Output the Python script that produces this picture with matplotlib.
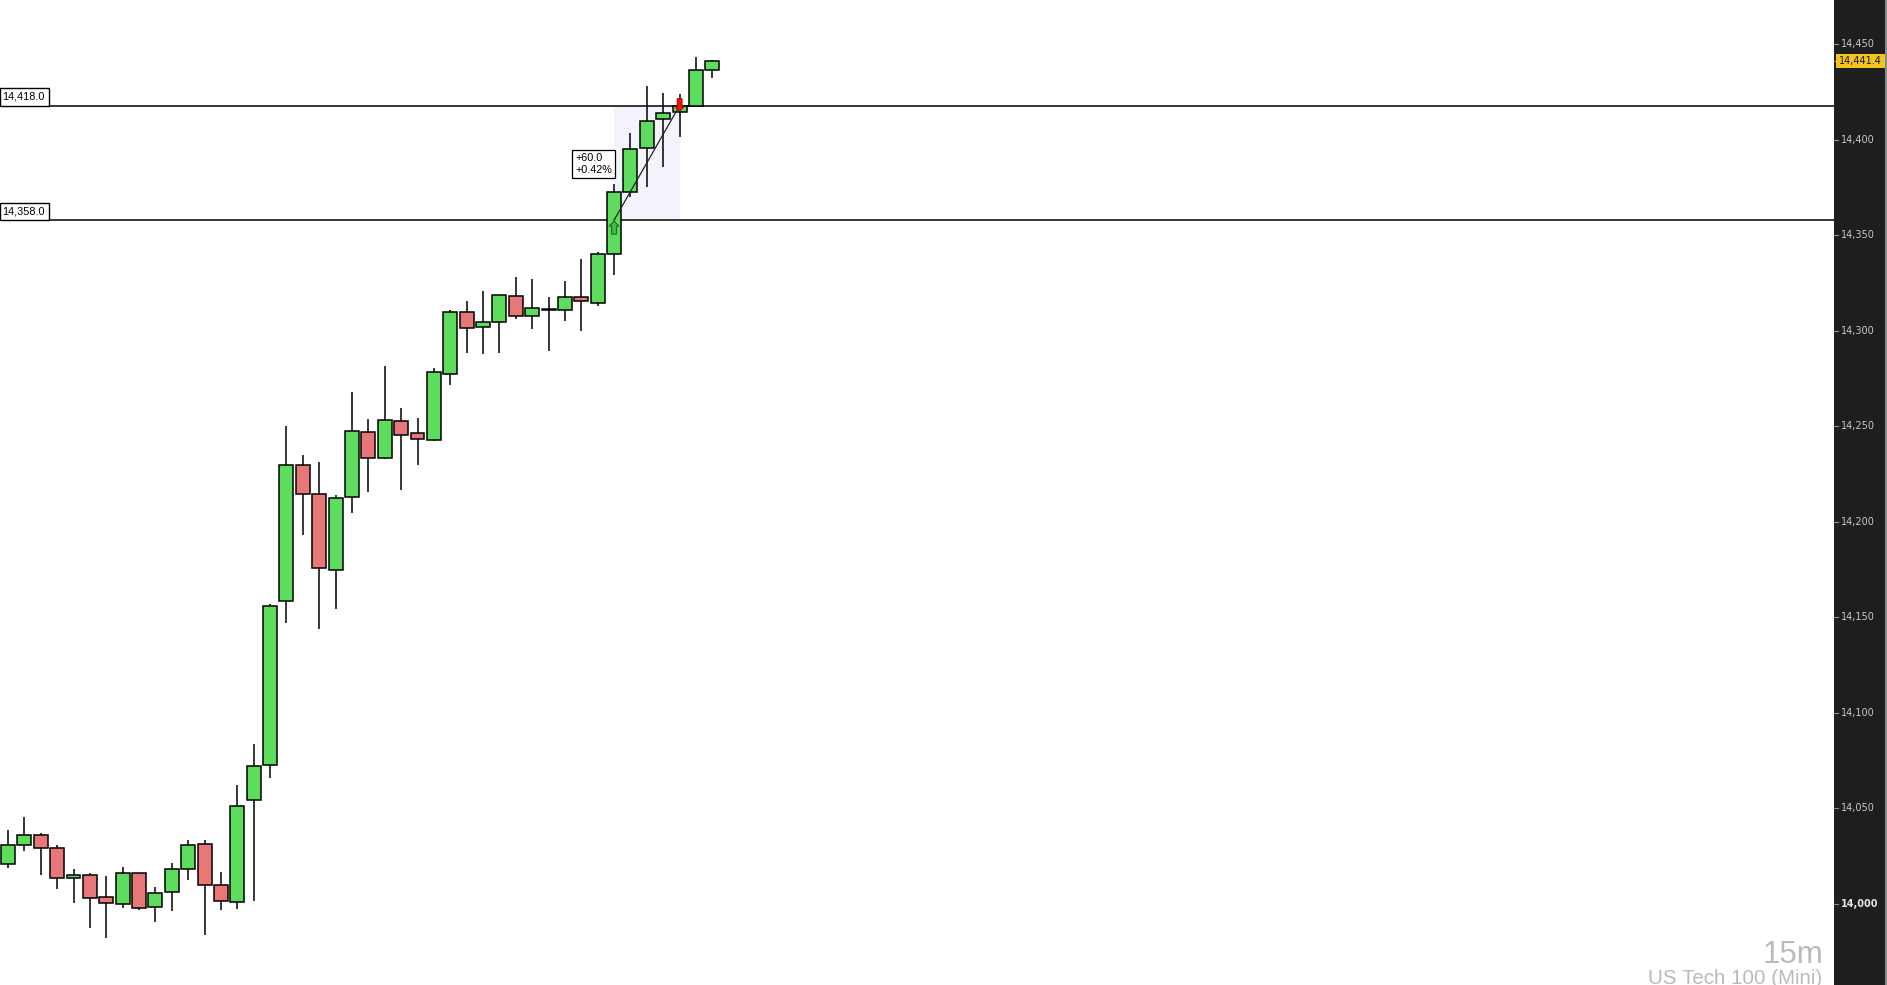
import matplotlib
matplotlib.use('Agg')
import matplotlib.pyplot as plt
import matplotlib.transforms as mtransforms
from matplotlib.patches import Rectangle, Polygon

# 15m candles, US Tech 100 (Mini)
opens = [14020.7, 14030.6, 14035.9, 14029.1, 14013.4, 14014.9, 14003.4, 13999.7, 14016.0, 13998.2,
         14006.0, 14018.1, 14031.2, 14009.7, 14000.8, 14054.2, 14072.5, 14158.4, 14229.6, 14214.5,
         14174.6, 14212.9, 14246.9, 14233.3, 14252.7, 14246.4, 14242.7, 14277.3, 14309.7, 14301.9,
         14304.5, 14318.2, 14307.7, 14311.1, 14310.8, 14317.6, 14314.5, 14340.1, 14372.9, 14395.7,
         14410.8, 14414.5, 14418.0, 14436.5]
highs = [14038.6, 14045.5, 14036.9, 14030.6, 14018.2, 14016.1, 14014.6, 14019.3, 14016.0, 14008.6,
         14021.4, 14033.3, 14033.3, 14016.7, 14062.4, 14083.7, 14157.0, 14250.2, 14235.0, 14231.4,
         14213.9, 14268.0, 14253.7, 14281.5, 14259.6, 14254.4, 14280.4, 14310.8, 14315.5, 14320.8,
         14318.7, 14328.1, 14327.0, 14317.6, 14326.0, 14337.5, 14341.5, 14376.9, 14403.5, 14428.2,
         14424.4, 14424.1, 14443.4, 14441.9]
lows = [14018.9, 14027.8, 14015.2, 14007.6, 14000.6, 13987.5, 13982.3, 13998.0, 13996.9, 13990.6,
        13996.4, 14012.5, 13983.8, 13996.6, 13997.1, 14001.6, 14066.0, 14147.2, 14193.3, 14144.1,
        14154.5, 14204.8, 14215.8, 14233.0, 14216.5, 14229.9, 14242.5, 14271.5, 14288.3, 14287.8,
        14288.3, 14306.1, 14300.9, 14289.3, 14305.0, 14299.8, 14313.0, 14329.1, 14370.0, 14375.5,
        14386.0, 14401.4, 14418.0, 14432.3]
closes = [14030.6, 14035.9, 14029.1, 14013.4, 14014.9, 14002.9, 14000.3, 14016.0, 13997.6, 14005.5,
          14018.1, 14030.6, 14009.7, 14001.3, 14051.1, 14072.0, 14156.1, 14229.6, 14214.5, 14175.7,
          14212.4, 14247.4, 14233.3, 14253.2, 14245.3, 14243.2, 14278.3, 14309.7, 14301.4, 14304.5,
          14318.7, 14307.7, 14311.9, 14311.1, 14317.6, 14315.5, 14340.1, 14372.9, 14395.1, 14409.8,
          14414.0, 14418.0, 14436.5, 14441.4]

levels = [14418.0, 14358.0]
level_labels = ['14,418.0', '14,358.0']
price_ticks = [14000, 14050, 14100, 14150, 14200, 14250, 14300, 14350, 14400, 14450]
last_price = 14441.4
trade_from = (37, 14358.0)
trade_to = (41, 14418.0)
trade_text = '+60.0\n+0.42%'

W, H = 1887, 985
PANEL = 1834          # x pixel where the price panel starts
STEP = 16.38          # pixels per candle
PX_Y = 1.9096         # pixels per price point
YMIN, YMAX = 13957.5, 14473.3

fig = plt.figure(figsize=(W / 100, H / 100), dpi=100)
fig.patch.set_facecolor('white')

ax = fig.add_axes([0, 0, PANEL / W, 1])
x0 = -8 / STEP
ax.set_xlim(x0, x0 + PANEL / STEP)
ax.set_ylim(YMIN, YMAX)
ax.axis('off')

px_x = 1 / STEP   # data units per pixel
px_y = 1 / PX_Y

# trade shading, level lines
ax.add_patch(Rectangle((trade_from[0], trade_from[1]), trade_to[0] - trade_from[0],
                       trade_to[1] - trade_from[1], facecolor='#f3f4fb', edgecolor='none', zorder=0))
for lv in levels:
    ax.axhline(lv, color='black', lw=1.1, zorder=1)

# candles
green, red = '#5edc5e', '#e87878'
xs = list(range(len(opens)))
ax.vlines(xs, lows, highs, color='black', lw=1.1, zorder=2)
for i in xs:
    o, c = opens[i], closes[i]
    bottom = min(o, c)
    height = max(abs(c - o), 0.6)
    col = green if c >= o else red
    ax.bar(i, height, bottom=bottom, width=0.85, color=col, edgecolor='black',
           linewidth=1.1, zorder=3)

# trade line and entry/exit arrows
ax.plot([trade_from[0], trade_to[0]], [trade_from[1], trade_to[1]], color='#222222', lw=0.9, zorder=4)

ex, ey = trade_from
up = [(ex, ey - 1 * px_y), (ex - 5 * px_x, ey - 6 * px_y), (ex - 2.5 * px_x, ey - 6 * px_y),
      (ex - 2.5 * px_x, ey - 14 * px_y), (ex + 2.5 * px_x, ey - 14 * px_y),
      (ex + 2.5 * px_x, ey - 6 * px_y), (ex + 5 * px_x, ey - 6 * px_y)]
ax.add_patch(Polygon(up, closed=True, facecolor='#45b845', edgecolor='#1f6f1f', lw=0.8, zorder=5))

tx, ty = trade_to
dn = [(tx, ty - 6 * px_y), (tx - 4.5 * px_x, ty - 1 * px_y), (tx - 2.5 * px_x, ty - 1 * px_y),
      (tx - 2.5 * px_x, ty + 7 * px_y), (tx + 2.5 * px_x, ty + 7 * px_y),
      (tx + 2.5 * px_x, ty - 1 * px_y), (tx + 4.5 * px_x, ty - 1 * px_y)]
ax.add_patch(Polygon(dn, closed=True, facecolor='#ee1111', edgecolor='#b00000', lw=0.6, zorder=5))

ax.text((575 - 8) / STEP, 14000 + (903.8 - 164) / PX_Y, trade_text, fontsize=7.8,
        family='Liberation Sans', ha='left', va='center', linespacing=1.25, zorder=6,
        bbox=dict(boxstyle='square,pad=0.3', facecolor='white', edgecolor='black', lw=0.9))

# level labels on the left
blend = mtransforms.blended_transform_factory(ax.transAxes, ax.transData)
for lv, lab in zip(levels, level_labels):
    ax.add_patch(Rectangle((0, lv), 49 / PANEL, 17.5 * px_y, transform=blend,
                           facecolor='white', edgecolor='black', lw=1.0, zorder=6, clip_on=False))
    ax.text(2 / PANEL, lv + 8.8 * px_y, lab, transform=blend, fontsize=7.8,
            family='Liberation Sans', ha='left', va='center', zorder=7)

# price panel
ax2 = fig.add_axes([PANEL / W, 0, 1 - PANEL / W, 1])
ax2.set_facecolor('#1e1e1e')
ax2.set_xlim(0, W - PANEL)
ax2.set_ylim(YMIN, YMAX)
ax2.set_xticks([])
ax2.set_yticks([])
for name, sp in ax2.spines.items():
    sp.set_visible(False)
ax2.axvline(W - PANEL - 1.5, color='#8a8a8a', lw=1.5)

for v in price_ticks:
    ax2.plot([0, 4], [v, v], color='#8c8c8c', lw=0.8)
    bold = v == 14000
    ax2.text(6.5, v, f'{v:,}', color='#e6e6e6' if bold else '#c8c8c8', fontsize=7,
             fontweight='bold' if bold else 'normal', family='DejaVu Sans', ha='left', va='center')

ax2.add_patch(Rectangle((2, last_price - 7 * px_y), 49, 14 * px_y, facecolor='#f2c31c',
                        edgecolor='none', zorder=3))
ax2.plot([0, 2], [last_price, last_price], color='#8c8c8c', lw=0.8)
ax2.text(26.5, last_price, f'{last_price:,.1f}', color='#1a1a1a', fontsize=7,
         family='DejaVu Sans', ha='center', va='center', zorder=4)

# watermark text
fig.text(1823 / W, 1 - 963 / H, '15m', ha='right', va='baseline', fontsize=22.5,
         color='#bababa', family='Liberation Sans')
fig.text(1822 / W, 1 - 984 / H, 'US Tech 100 (Mini)', ha='right', va='baseline', fontsize=14.8,
         color='#bababa', family='Liberation Sans')

fig.savefig('out.png', dpi=100, facecolor='white')
